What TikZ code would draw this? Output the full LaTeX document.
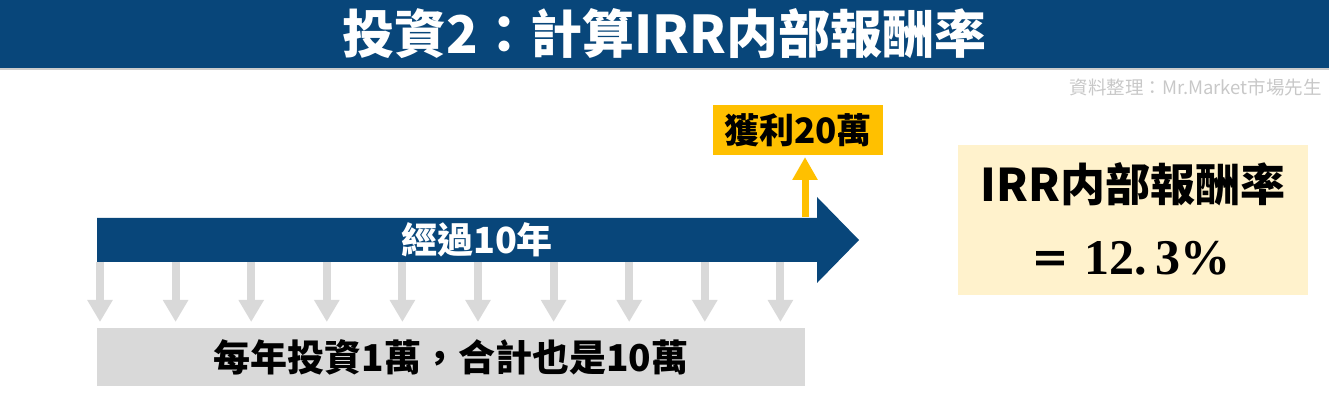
\documentclass[tikz,border=0pt]{standalone}
\usepackage{fontspec}
\setmainfont{Noto Sans CJK TC}[BoldFont={Noto Sans CJK TC Black}]
\newfontfamily\numserif{Liberation Serif}
\usetikzlibrary{arrows.meta}
\definecolor{navy}{RGB}{8,70,122}
\definecolor{gold}{RGB}{255,192,0}
\definecolor{lightgray}{RGB}{217,217,217}
\definecolor{cream}{RGB}{255,242,204}
\definecolor{credit}{RGB}{200,200,200}
\tikzset{
  box/.style={inner sep=0pt, outer sep=0pt, anchor=north west},
  boldtxt/.style={font=\bfseries, inner sep=0pt},
  downarrow/.style={draw=lightgray, line width=8pt, -{Triangle[width=24pt,length=22pt]}},
  uparrow/.style={draw=gold, line width=7pt, -{Triangle[width=24pt,length=23pt]}},
}
\begin{document}
\begin{tikzpicture}[x=1pt,y=-1pt]
\useasboundingbox (0,0) rectangle (1329,419);
% title banner
\fill[navy] (0,0) rectangle (1329,68) node[pos=0.5, boldtxt, text=white, font=\bfseries\fontsize{52}{54}\selectfont] (title) {投資2：計算IRR内部報酬率};
\fill[gray!40] (0,68) rectangle (1329,70);
% credit
\node[anchor=east, text=credit, font=\fontsize{18.5}{20}\selectfont, inner sep=0pt] (credit) at (1322,87) {資料整理：Mr.Market市場先生};
% big arrow
\fill[navy] (97,218) -- (817,218) -- (817,197) -- (859,240) -- (817,283) -- (817,262) -- (97,262) -- cycle;
\node[boldtxt, text=white, font=\bfseries\fontsize{36}{38}\selectfont] (span) at (477,240) {經過10年};
% gain box
\node[box, fill=gold, minimum width=170pt, minimum height=50pt] (gainbox) at (713,105) {};
\node[boldtxt, font=\bfseries\fontsize{35}{37}\selectfont] (gain) at (gainbox.center) {獲利20萬};
\coordinate (ustart) at (805,217);
\coordinate (uend) at (805,157);
\draw[uparrow] (ustart) -- (uend);
% down arrows
\foreach \i in {0,...,9} {
  \coordinate (d\i s) at ({100+75.6*\i},262);
  \coordinate (d\i e) at ({100+75.6*\i},322);
  \draw[downarrow] (d\i s) -- (d\i e);
}
% bottom box
\node[box, fill=lightgray, minimum width=708pt, minimum height=58pt] (paybox) at (97,328) {};
\node[boldtxt, font=\bfseries\fontsize{37}{39}\selectfont] (pay) at (451,357) {每年投資1萬，合計也是10萬};
% IRR box
\node[box, fill=cream, minimum width=350pt, minimum height=150pt] (irrbox) at (958,145) {};
\node[boldtxt, font=\bfseries\fontsize{45}{47}\selectfont] (irr) at (1133,184) {IRR内部報酬率};
\node[boldtxt, anchor=west] (val) at (1030,258) {\fontsize{40}{42}\selectfont ＝\hspace{14pt}{\numserif\bfseries\fontsize{50}{52}\selectfont 12.\,3\%}};
\end{tikzpicture}
\end{document}
